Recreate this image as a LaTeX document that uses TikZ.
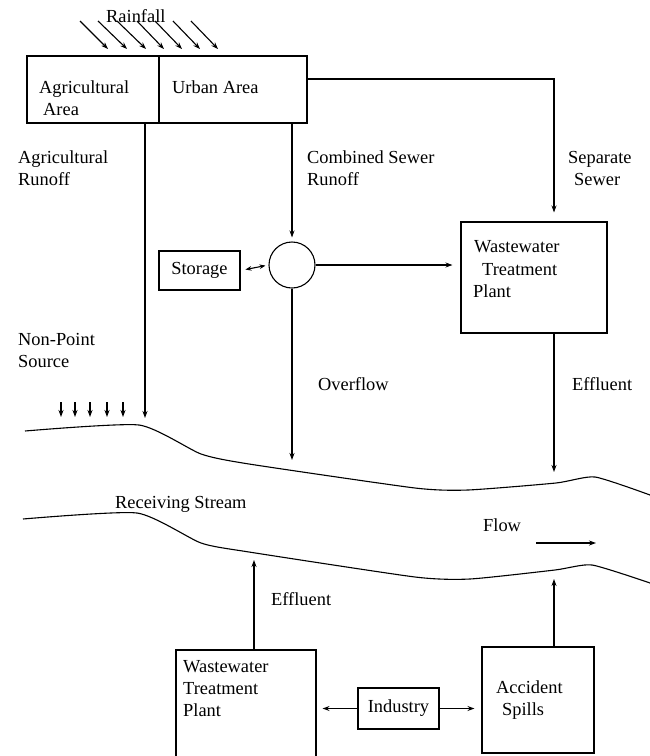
\documentclass[tikz,border=0pt]{standalone}
\usepackage{fontspec}
\setmainfont{Liberation Serif}
\usetikzlibrary{arrows.meta}
\newcommand\diagfont{\fontsize{18.4}{22}\selectfont}
\tikzset{
  box/.style={draw, line width=1.1pt, inner sep=0pt, rectangle, font=\diagfont},
  lbl/.style={anchor=base west, inner sep=0pt, font=\diagfont},
  arr/.style={-{Stealth[length=7pt,width=5pt]}, line width=1.1pt},
  darr/.style={{Stealth[length=6pt,width=4.5pt]}-{Stealth[length=6pt,width=4.5pt]}, line width=1.1pt},
  ln/.style={line width=1.1pt},
}
\begin{document}
\begin{tikzpicture}[x=1pt,y=-1pt]
\clip (0,0) rectangle (650,756);
\fill[white] (0,0) rectangle (650,756);

% top boxes
\node[box, minimum width=132pt, minimum height=67pt] (agri) at (93,89.5) {};
\node[box, minimum width=148pt, minimum height=67pt] (urban) at (233,89.5) {};
\node[lbl] (agriT1) at (39,93) {Agricultural};
\node[lbl] (agriT2) at (43,115) {Area};
\node[lbl] (urbanT) at (172,93) {Urban Area};

% rainfall
\foreach \sx/\ex in {80/108, 98/127, 117/146, 137/164, 155/182, 173/200, 191/218}{
  \draw[arr] (\sx,21) -- (\ex,49);
}
\node[lbl] (rain) at (106,22) {Rainfall};

% middle elements
\node[box, minimum width=81pt, minimum height=39pt] (storage) at (199.5,270.5) {Storage};
\node[draw, circle, line width=1.1pt, minimum size=46pt, inner sep=0pt] (circ) at (292,265) {};
\node[box, minimum width=146pt, minimum height=111pt] (wwtp) at (534,277.5) {};
\node[lbl] (wwtpT1) at (474,252) {Wastewater};
\node[lbl] (wwtpT2) at (482,275) {Treatment};
\node[lbl] (wwtpT3) at (473,297) {Plant};

% labels
\node[lbl] (agrRun1) at (18,163) {Agricultural};
\node[lbl] (agrRun2) at (18,185) {Runoff};
\node[lbl] (comb1) at (307,163) {Combined Sewer};
\node[lbl] (comb2) at (307,185) {Runoff};
\node[lbl] (sep1) at (568,163) {Separate};
\node[lbl] (sep2) at (574,185) {Sewer};
\node[lbl] (nps1) at (18,345) {Non-Point};
\node[lbl] (nps2) at (18,367) {Source};
\node[lbl] (ovf) at (318,390) {Overflow};
\node[lbl] (eff1) at (572,390) {Effluent};
\node[lbl] (recv) at (115,508) {Receiving Stream};
\node[lbl] (flow) at (483,531) {Flow};
\node[lbl] (eff2) at (271,605) {Effluent};

% coordinates
\coordinate (agrtip) at (145,418);
\coordinate (sepc) at (554,79);
\coordinate (ovftip) at (292,460);
\coordinate (efftip) at (554,472);
\coordinate (flowA) at (536,543);
\coordinate (flowB) at (596,543);
\coordinate (eff2tip) at (254,560);
\coordinate (acctip) at (554,579);

% connectors
\draw[arr] (agri.south -| agrtip) -- (agrtip);
\draw[arr, shorten >=4pt] (urban.south -| circ) -- (circ.north);
\draw[arr, shorten >=9pt] (urban.east |- sepc) -- (sepc) -- (wwtp.north -| sepc);
\draw[darr, shorten <=5pt, shorten >=3pt] (storage.east) -- (circ.west);
\draw[arr, shorten >=8pt] (circ.east) -- (wwtp.west |- circ.east);
\draw[arr] (circ.south) -- (ovftip);
\draw[arr] (wwtp.south -| efftip) -- (efftip);
\foreach \nx in {61,75,90,107,123}{
  \draw[arr] (\nx,402) -- (\nx,417);
}
\draw[arr] (flowA) -- (flowB);

% river banks
\draw[ln] plot[smooth, tension=0.35] coordinates {(25,431) (139,425) (201,454) (249,464) (415,488) (468,490) (556,483) (595,477) (650,495)};
\draw[ln] plot[smooth, tension=0.35] coordinates {(23,519) (137,513) (201,543) (249,552) (415,577) (470,579) (555,570) (592,565) (650,583)};

% bottom
\node[box, minimum width=140pt, minimum height=140pt] (wwtp2) at (246,720) {};
\node[lbl] (w2T1) at (183,672) {Wastewater};
\node[lbl] (w2T2) at (183,694) {Treatment};
\node[lbl] (w2T3) at (183,716) {Plant};
\node[box, minimum width=81pt, minimum height=41pt] (ind) at (398.5,708.5) {Industry};
\node[box, minimum width=112pt, minimum height=106pt] (acc) at (538,700) {};
\node[lbl] (accT1) at (496,693) {Accident};
\node[lbl] (accT2) at (502,715) {Spills};

\draw[arr] (wwtp2.north -| eff2tip) -- (eff2tip);
\draw[arr] (acc.north -| acctip) -- (acctip);
\draw[arr, shorten >=6pt] (ind.west) -- (wwtp2.east |- ind.west);
\draw[arr, shorten >=7pt] (ind.east) -- (acc.west |- ind.east);
\end{tikzpicture}
\end{document}
